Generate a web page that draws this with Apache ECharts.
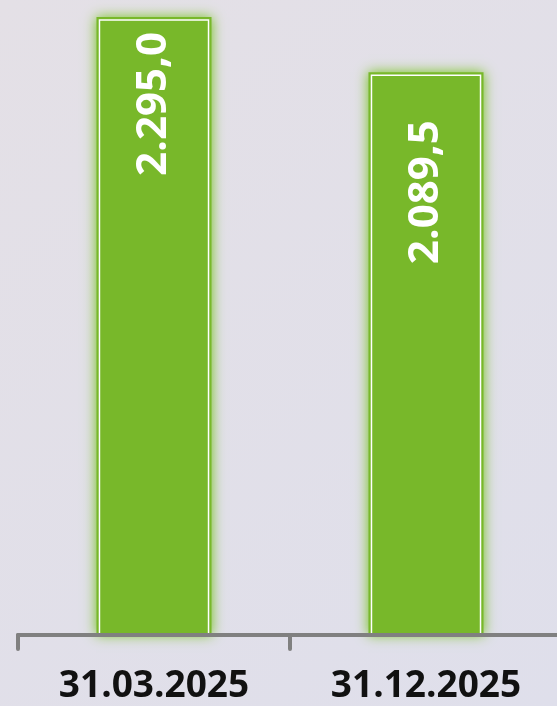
<!DOCTYPE html>
<html>
<head>
<meta charset="utf-8">
<script src="https://cdn.jsdelivr.net/npm/echarts@6/dist/echarts.min.js"></script>
<style>
  html, body { margin: 0; padding: 0; }
  body { background: #e2e0e8; }
  #chart { width: 557px; height: 706px; }
</style>
</head>
<body>
<div id="chart"></div>
<script>
// Stichtage und Werte
const categories = ["31.03.2025", "31.12.2025"];
const values = [2295.0, 2089.5];

// Abstand Balkenoberkante -> Beschriftung (nur Darstellung)
const labelGap = [15, 48];

const green = "#78b82a";

function fmt(v) {
  // deutsches Zahlenformat: 2.295,0
  let parts = v.toFixed(1).split(".");
  let int = parts[0].replace(/\B(?=(\d{3})+(?!\d))/g, ".");
  return int + "," + parts[1];
}

const chart = echarts.init(document.getElementById("chart"));

chart.setOption({
  backgroundColor: {
    type: "linear", x: 0, y: 0, x2: 1, y2: 1,
    colorStops: [
      { offset: 0, color: "#e4e0e6" },
      { offset: 1, color: "#dfdfeb" },
    ],
  },
  animation: false,
  grid: { left: 18, width: 544, top: 17, bottom: 71, containLabel: false, outerBoundsMode: "none" },
  xAxis: {
    type: "category",
    data: categories,
    z: 5,
    axisLine: { lineStyle: { color: "#808080", width: 4 } },
    axisTick: { show: true, length: 14, lineStyle: { color: "#808080", width: 4, cap: "round" } },
    axisLabel: {
      color: "#111",
      fontFamily: "Open Sans",
      fontWeight: "bold",
      fontSize: 37,
      margin: 33,
    },
  },
  yAxis: {
    type: "value",
    min: 0,
    max: 2295,
    show: false,
    splitLine: { show: false },
  },
  series: [
    {
      type: "custom",
      z: 2,
      data: values.map((v, i) => [i, v]),
      renderItem: (params, api) => {
        let i = api.value(0);
        let top = api.coord([i, api.value(1)]);
        let base = api.coord([i, 0]);
        let w = api.size([1, 0])[0] * 0.423;
        let x = top[0] - w / 2;
        let h = base[1] - top[1];
        return {
          type: "group",
          children: [
            {
              type: "rect",
              shape: { x: x, y: top[1], width: w, height: h },
              style: { fill: green, shadowBlur: 12, shadowColor: "rgba(120,195,35,1)" },
            },
            {
              type: "rect",
              shape: { x: x + 3, y: top[1] + 3, width: w - 6, height: h - 3 },
              style: { fill: "none", stroke: "#ffffff", lineWidth: 1.5 },
            },
            {
              type: "text",
              x: top[0],
              y: top[1] + labelGap[i],
              rotation: Math.PI / 2,
              style: {
                text: fmt(values[i]),
                fill: "#ffffff",
                font: 'bold 42px "Open Sans"',
                align: "right",
                verticalAlign: "middle",
              },
            },
          ],
        };
      },
    },
  ],
});
</script>
</body>
</html>
